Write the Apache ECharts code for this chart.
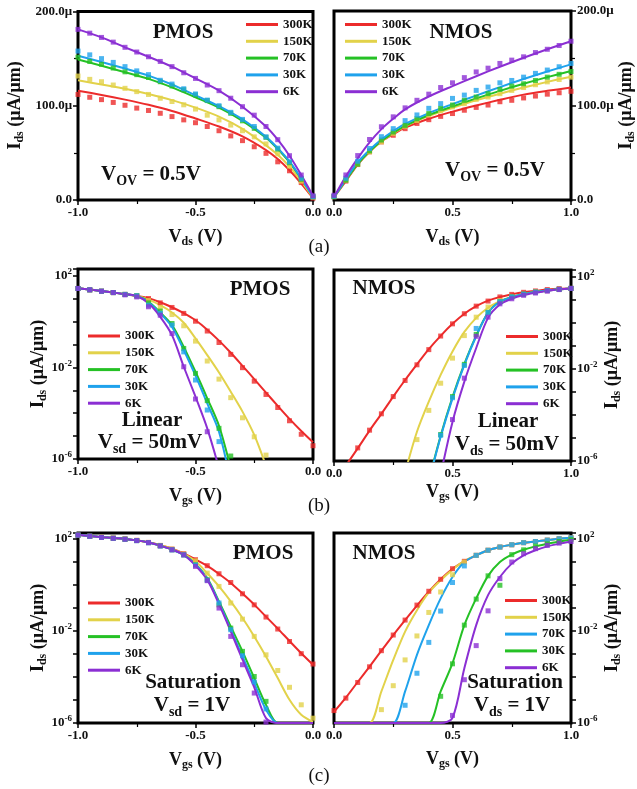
<!DOCTYPE html>
<html>
<head>
<meta charset="utf-8">
<script src="https://cdn.jsdelivr.net/npm/echarts@6/dist/echarts.min.js"></script>
<style>
  html, body { margin: 0; padding: 0; background: #fff; }
  #chart { width: 637px; height: 789px; }
</style>
</head>
<body>
<div id="chart"></div>
<script>
// ---- temperatures and gate / drain voltage grids ----
const TEMPS = ['300K', '150K', '70K', '30K', '6K'];
const N = null;
const VP = [-1.00, -0.95, -0.90, -0.85, -0.80, -0.75, -0.70, -0.65, -0.60, -0.55, -0.50,
            -0.45, -0.40, -0.35, -0.30, -0.25, -0.20, -0.15, -0.10, -0.05, 0.00];
const VN = [0.00, 0.05, 0.10, 0.15, 0.20, 0.25, 0.30, 0.35, 0.40, 0.45, 0.50,
            0.55, 0.60, 0.65, 0.70, 0.75, 0.80, 0.85, 0.90, 0.95, 1.00];
const VP_FIT_OUT = [-1.0, -0.9, -0.8, -0.7, -0.6, -0.5, -0.4, -0.3, -0.2, -0.15, -0.1, -0.05, 0.0];
const VN_FIT_OUT = [0.0, 0.05, 0.1, 0.15, 0.2, 0.25, 0.3, 0.4, 0.5, 0.6, 0.7, 0.8, 0.9, 1.0];

// ---- (a) output characteristics, Ids in uA/um (rows: 300K,150K,70K,30K,6K) ----
const pmosOutFit = [
  [116, 111.5, 106.5, 101, 94.5, 86.5, 78, 67.5, 53, 43.5, 31.5, 17.5, 2],
  [127, 122.5, 118, 112.5, 106, 98, 88.5, 75.5, 58, 48, 35.5, 20, 2.5],
  [149, 142.5, 135.5, 128.5, 119.5, 109, 98, 84, 66, 54, 40, 22.5, 3.5],
  [153, 146.5, 139.5, 132, 122.5, 111, 99.5, 85.5, 67, 55, 41, 23, 3.5],
  [181, 172.5, 162, 152, 141.5, 129, 116, 99, 78, 64, 47, 26.5, 4.5]
];
const pmosOutMeas = [
  [112, 109, 106.5, 103.5, 100.5, 97.5, 95, 92, 88.5, 85, 82, 78, 73.5, 68, 63, 56.5, 49.5, 40.5, 31, 18.5, 2],
  [131.5, 128, 125.5, 122, 118.5, 115, 112, 108, 104.5, 101, 96.5, 90, 85, 79.5, 73.5, 67, 59.5, 49, 36, 20, 3],
  [151.5, 147, 144, 140, 136, 133, 130, 125.5, 121, 117, 111.5, 105.5, 99, 92, 84, 76, 66.5, 54, 39.5, 22, 3.5],
  [158, 154, 150, 146, 141.5, 137, 133, 127, 123, 118, 112.5, 106, 100, 93, 85.5, 78, 67, 55, 40.5, 23, 3.5],
  [181, 177, 172.5, 167.5, 162, 157, 152, 147, 141.5, 135, 129, 122, 116, 108, 99, 90, 78, 64, 47, 26.5, 4.5]
];
const nmosOutFit = [
  [3, 20, 37.5, 51, 62, 69.5, 76.5, 86, 93.5, 100, 106, 111.5, 115.5, 119],
  [3, 21, 38, 51, 62, 70.5, 78, 89, 97.5, 105.5, 112.5, 119, 125, 130.5],
  [3, 21, 38, 51.5, 62.5, 71, 78.5, 90, 99, 107.5, 115.5, 123, 130, 136.5],
  [3, 22, 40, 53, 64, 73, 80.5, 92, 101.5, 110.5, 119.5, 128, 136, 143.5],
  [3, 25, 44, 61, 75, 86, 96, 109.5, 120.5, 131, 141, 150.5, 159.5, 168]
];
const nmosOutMeas = [
  [3.5, 20, 37.5, 51, 61.5, 68.5, 75.5, 81, 85, 88.5, 91.5, 95, 98, 100.5, 104, 105.5, 108, 110, 112, 113.5, 115],
  [3.5, 21, 38, 51, 61.5, 70.5, 78, 84, 90, 94.5, 98.5, 102, 106.5, 109, 112.5, 116, 119, 122, 125, 127.5, 130],
  [3.5, 21, 38, 52, 63.5, 72, 79, 86, 91.5, 97, 100.5, 105.5, 109, 112.5, 117, 120.5, 123, 126.5, 130, 133, 136],
  [4, 23, 41, 54.5, 67, 75.5, 84, 90, 97, 102, 107.5, 111, 116, 119.5, 124, 126.5, 130, 134, 137.5, 141, 144.5],
  [5, 26.5, 47, 64, 77.5, 88, 97.5, 105.5, 112, 119, 124, 129.5, 135.5, 139.5, 144.5, 148, 151.5, 156, 159.5, 163.5, 168]
];

// ---- (b) linear transfer, log10(Ids / uA/um) ----
const pmosLinFit = [
  [1.46, 1.40, 1.34, 1.27, 1.2, 1.12, 1.02, 0.85, 0.63, 0.37, 0.06, -0.35, -0.83, -1.36, -1.93, -2.51, -3.1, -3.68, -4.25, -4.78, -5.27],
  [1.46, 1.40, 1.34, 1.27, 1.2, 1.12, 0.96, 0.72, 0.4, -0.05, -0.73, -1.46, -2.22, -3.06, -3.93, -4.95, -6.3, N, N, N, N],
  [1.46, 1.40, 1.34, 1.27, 1.2, 1.12, 0.88, 0.4, -0.15, -1.1, -2.19, -3.35, -4.55, -6.4, N, N, N, N, N, N, N],
  [1.46, 1.40, 1.34, 1.27, 1.2, 1.12, 0.85, 0.36, -0.23, -1.24, -2.36, -3.57, -4.81, -7.0, N, N, N, N, N, N, N],
  [1.46, 1.40, 1.34, 1.27, 1.2, 1.12, 0.8, 0.21, -0.59, -1.97, -3.28, -4.66, -6.4, N, N, N, N, N, N, N, N]
];
const pmosLinMeas = [
  [1.45, 1.39, 1.33, 1.27, 1.19, 1.13, 1.01, 0.82, 0.62, 0.36, 0.02, -0.41, -0.91, -1.43, -2.01, -2.6, -3.18, -3.75, -4.33, -4.92, -5.42],
  [1.45, 1.39, 1.33, 1.27, 1.19, 1.13, 0.92, 0.62, 0.31, -0.18, -0.85, -1.72, -2.51, -3.32, -4.2, -5.03, -5.83, N, N, N, N],
  [1.45, 1.39, 1.33, 1.27, 1.19, 1.13, 0.82, 0.46, -0.08, -1.17, -2.26, -3.45, -4.66, -5.87, N, N, N, N, N, N, N],
  [1.45, 1.39, 1.33, 1.27, 1.19, 1.13, 0.72, 0.36, -0.15, -1.32, -2.55, -3.86, -5.24, N, N, N, N, N, N, N, N],
  [1.45, 1.39, 1.33, 1.27, 1.17, 1.08, 0.65, 0.28, -0.52, -1.97, -3.38, -4.81, N, N, N, N, N, N, N, N, N]
];
const nmosLinFit = [
  [N, -6.2, -5.45, -4.68, -3.95, -3.2, -2.48, -1.8, -1.14, -0.56, -0.04, 0.4, 0.73, 0.97, 1.13, 1.24, 1.33, 1.39, 1.45, 1.49, 1.5],
  [N, N, N, N, N, N, -6.5, -4.73, -3.42, -2.26, -1.24, -0.39, 0.22, 0.66, 0.95, 1.13, 1.25, 1.34, 1.41, 1.46, 1.5],
  [N, N, N, N, N, N, N, N, -6.85, -4.9, -3.22, -1.78, -0.55, 0.45, 0.92, 1.12, 1.25, 1.34, 1.41, 1.46, 1.5],
  [N, N, N, N, N, N, N, N, -6.9, -4.95, -3.28, -1.82, -0.58, 0.44, 0.92, 1.12, 1.25, 1.34, 1.41, 1.46, 1.5],
  [N, N, N, N, N, N, N, N, N, -6.6, -4.3, -2.55, -1.09, 0.22, 0.8, 1.05, 1.21, 1.31, 1.39, 1.46, 1.5]
];
const nmosLinMeas = [
  [N, N, -5.43, -4.66, -3.95, -3.2, -2.5, -1.82, -1.16, -0.57, -0.04, 0.4, 0.73, 0.95, 1.13, 1.24, 1.33, 1.39, 1.45, 1.49, 1.5],
  [N, N, N, N, N, N, N, -5.07, -3.8, -2.62, -1.53, -0.55, 0.25, 0.69, 0.97, 1.14, 1.25, 1.34, 1.4, 1.45, 1.5],
  [N, N, N, N, N, N, N, N, N, -4.85, -3.2, -1.8, -0.5, 0.46, 0.92, 1.13, 1.25, 1.34, 1.41, 1.46, 1.5],
  [N, N, N, N, N, N, N, N, N, -4.88, -3.25, -1.85, -0.24, 0.45, 0.92, 1.13, 1.25, 1.34, 1.41, 1.46, 1.5],
  [N, N, N, N, N, N, N, N, N, N, -4.2, -2.4, -0.58, 0.25, 0.83, 1.05, 1.2, 1.3, 1.38, 1.45, 1.5]
];

// ---- (c) saturation transfer, log10(Ids / uA/um) ----
const pmosSatFit = [
  [2.17, 2.12, 2.07, 2.03, 1.99, 1.93, 1.85, 1.72, 1.57, 1.36, 1.1, 0.82, 0.47, 0.08, -0.38, -0.86, -1.38, -1.9, -2.44, -2.97, -3.47],
  [2.17, 2.12, 2.07, 2.03, 1.99, 1.93, 1.85, 1.72, 1.56, 1.34, 1.02, 0.5, -0.07, -0.72, -1.44, -2.24, -3.11, -4.05, -4.99, -5.64, -5.95],
  [2.17, 2.12, 2.07, 2.03, 1.99, 1.93, 1.84, 1.7, 1.53, 1.3, 0.9, 0.29, -0.72, -1.81, -2.89, -4.05, -5.21, -6, -6, -6, -6],
  [2.17, 2.12, 2.07, 2.03, 1.99, 1.93, 1.84, 1.7, 1.53, 1.3, 0.88, 0.26, -0.78, -1.95, -3.11, -4.27, -5.42, -6, -6, -6, -6],
  [2.17, 2.12, 2.07, 2.03, 1.99, 1.93, 1.84, 1.7, 1.53, 1.3, 0.84, 0.22, -0.84, -2.02, -3.25, -4.45, -5.79, -6, -6, -6, -6]
];
const pmosSatMeas = [
  [2.16, 2.11, 2.07, 2.03, 1.99, 1.93, 1.84, 1.71, 1.55, 1.35, 1.09, 0.83, 0.48, 0.1, -0.39, -0.87, -1.4, -1.92, -2.46, -2.99, -3.44],
  [2.16, 2.11, 2.07, 2.03, 1.99, 1.93, 1.84, 1.71, 1.55, 1.33, 1.04, 0.51, -0.07, -0.79, -1.49, -2.24, -3.04, -3.72, -4.45, -5.21, -5.79],
  [2.16, 2.11, 2.06, 2.02, 1.98, 1.92, 1.83, 1.69, 1.52, 1.3, 0.87, 0.22, -0.87, -1.88, -2.89, -3.98, -5.06, N, N, N, N],
  [2.16, 2.11, 2.06, 2.02, 1.98, 1.92, 1.83, 1.69, 1.52, 1.3, 0.86, 0.2, -0.79, -1.95, -3.08, -4.22, -5.39, N, N, N, N],
  [2.16, 2.11, 2.06, 2.02, 1.98, 1.92, 1.83, 1.69, 1.52, 1.3, 0.8, 0.18, -1.01, -2.24, -3.47, -4.7, -5.96, N, N, N, N]
];
const nmosSatFit = [
  [-5.52, -4.9, -4.22, -3.55, -2.86, -2.18, -1.53, -0.9, -0.3, 0.24, 0.7, 1.02, 1.28, 1.5, 1.64, 1.74, 1.83, 1.88, 1.94, 2.0, 2.04],
  [-6, -6, -6, -6, -4.63, -3.26, -2.03, -1.1, -0.33, 0.2, 0.66, 1.04, 1.28, 1.5, 1.64, 1.74, 1.83, 1.88, 1.94, 2.0, 2.04],
  [-6, -6, -6, -6, -6, -6, -4.63, -3.04, -1.75, -0.59, 0.34, 0.99, 1.28, 1.5, 1.64, 1.74, 1.83, 1.88, 1.94, 2.0, 2.04],
  [-6, -6, -6, -6, -6, -6, -6, -6, -6, -4.63, -3.4, -1.75, -0.59, 0.39, 0.99, 1.31, 1.52, 1.67, 1.78, 1.88, 1.96],
  [-6, -6, -6, -6, -6, -6, -6, -6, -6, -6, -5.78, -3.62, -1.75, -0.45, 0.34, 0.92, 1.28, 1.5, 1.67, 1.78, 1.88]
];
const nmosSatMeas = [
  [-5.46, -4.92, -4.24, -3.56, -2.86, -2.18, -1.53, -0.88, -0.28, 0.24, 0.7, 1.02, 1.28, 1.5, 1.64, 1.74, 1.83, 1.88, 1.94, 2.0, 2.04],
  [N, N, N, N, -5.42, -4.38, -3.26, -2.22, -1.2, -0.31, 0.44, 0.99, 1.28, 1.5, 1.64, 1.74, 1.83, 1.88, 1.94, 2.0, 2.04],
  [N, N, N, N, N, N, -5.23, -3.84, -2.5, -1.14, 0.1, 0.82, 1.28, 1.5, 1.64, 1.74, 1.83, 1.88, 1.94, 2.0, 2.04],
  [N, N, N, N, N, N, N, N, N, -4.84, -3.43, -1.75, -0.62, 0.39, -0.02, 1.31, 1.52, 1.68, 1.78, 1.88, 1.96],
  [N, N, N, N, N, N, N, N, N, N, -5.67, -4.12, -2.64, -1.13, 0.27, 0.99, 1.35, 1.57, 1.71, 1.81, 1.88]
];

// ---- tick labels ----
const OUT_Y_TICKS = [0, 100, 200];
const LOG_LABEL_EXPONENTS = [2, -2, -6];

// ---- styling ----
const FONT = 'Liberation Serif';
const RED = '#ec2b2b', YELLOW = '#e2d24a', GREEN = '#25c125', BLUE = '#1fa2ec', PURPLE = '#8b2fd3';
const COLORS = [RED, YELLOW, GREEN, BLUE, PURPLE];
const COLORS_SWAP = [RED, YELLOW, BLUE, GREEN, PURPLE];

const panels = [
  { grid: { left: 78,  top: 11.5, width: 235, height: 188.5 }, x: [-1, 0], y: 'out', side: 'left',
    fitX: VP_FIT_OUT, fit: pmosOutFit, measX: VP, meas: pmosOutMeas, colors: COLORS, legend: [241, 12.5] },
  { grid: { left: 334, top: 11,   width: 237, height: 189 },   x: [0, 1],  y: 'out', side: 'right',
    fitX: VN_FIT_OUT, fit: nmosOutFit, measX: VN, meas: nmosOutMeas, colors: COLORS, legend: [340, 12.5] },
  { grid: { left: 78,  top: 269,  width: 235, height: 190 },   x: [-1, 0], y: 2.3, side: 'left',
    fitX: VP, fit: pmosLinFit, measX: VP, meas: pmosLinMeas, colors: COLORS, legend: [83, 324] },
  { grid: { left: 334, top: 270,  width: 237, height: 191 },   x: [0, 1],  y: 2.3, side: 'right',
    fitX: VN, fit: nmosLinFit, measX: VN, meas: nmosLinMeas, colors: COLORS, legend: [501, 324.5] },
  { grid: { left: 78,  top: 533,  width: 235, height: 190 },   x: [-1, 0], y: 2.25, side: 'left',
    fitX: VP, fit: pmosSatFit, measX: VP, meas: pmosSatMeas, colors: COLORS, legend: [83, 591] },
  { grid: { left: 334, top: 533,  width: 237, height: 190 },   x: [0, 1],  y: 2.25, side: 'right',
    fitX: VN, fit: nmosSatFit, measX: VN, meas: nmosSatMeas, colors: COLORS_SWAP, legend: [500, 588.5] }
];

function pairs(xs, ys) {
  const out = [];
  ys.forEach((y, i) => { if (y !== null) out.push([xs[i], y]); });
  return out;
}

const labelFont = { fontFamily: FONT, fontWeight: 'bold', fontSize: 13, color: '#111' };
const grids = [], xAxes = [], yAxes = [], series = [], legends = [];

panels.forEach((p, k) => {
  grids.push(Object.assign({ show: true, borderColor: '#000', borderWidth: 3, backgroundColor: '#fff' }, p.grid));

  xAxes.push({
    gridIndex: k, type: 'value', position: 'bottom', min: p.x[0], max: p.x[1], interval: 0.5,
    axisLine: { show: false, onZero: false }, splitLine: { show: false },
    axisTick: { show: true, length: 5, lineStyle: { color: '#000', width: 1.5 } },
    minorTick: { show: true, splitNumber: 2, length: 4, lineStyle: { color: '#000', width: 1.2 } },
    axisLabel: Object.assign({ margin: 6, showMinLabel: true, showMaxLabel: true,
      formatter: v => v.toFixed(1) }, labelFont)
  });

  const yBase = {
    gridIndex: k, type: 'value', position: p.side,
    axisLine: { show: false, onZero: false }, splitLine: { show: false },
    axisTick: { show: true, length: 5, lineStyle: { color: '#000', width: 1.5 } }
  };
  if (p.y === 'out') {
    yAxes.push(Object.assign(yBase, {
      min: OUT_Y_TICKS[0], max: OUT_Y_TICKS[2], interval: 100,
      minorTick: { show: true, splitNumber: 2, length: 4, lineStyle: { color: '#000', width: 1.2 } },
      axisLabel: Object.assign({ margin: 6,
        formatter: v => (v === 0 ? '0.0' : v.toFixed(1) + '\u03bc') }, labelFont)
    }));
  } else {
    yAxes.push(Object.assign(yBase, {
      min: -6, max: p.y, interval: 1,
      axisLabel: Object.assign({ margin: 6, interval: 0,
        formatter: v => (LOG_LABEL_EXPONENTS.indexOf(v) >= 0 ? '{b|10}{s|' + v + '}' : ''),
        rich: {
          b: { fontFamily: FONT, fontWeight: 'bold', fontSize: 13, color: '#111' },
          s: { fontFamily: FONT, fontWeight: 'bold', fontSize: 9, color: '#111', padding: [0, 0, 8, 0] }
        } }, labelFont)
    }));
  }

  TEMPS.forEach((t, i) => {
    series.push({
      type: 'line', name: t, xAxisIndex: k, yAxisIndex: k,
      data: pairs(p.fitX, p.fit[i]), smooth: 0.3, symbol: 'none', clip: true,
      lineStyle: { color: p.colors[i], width: 2 }, itemStyle: { color: p.colors[i] },
      z: 3, silent: true, animation: false
    });
    series.push({
      type: 'scatter', name: t + ' measured', xAxisIndex: k, yAxisIndex: k,
      data: pairs(p.measX, p.meas[i]), symbol: 'rect', symbolSize: 5, clip: true,
      itemStyle: { color: p.colors[i] }, z: 4, silent: true, animation: false
    });
  });

  legends.push({
    orient: 'vertical', left: p.legend[0], top: p.legend[1],
    itemWidth: 32, itemHeight: 3, itemGap: 2.8, icon: 'rect', selectedMode: false,
    textStyle: { fontFamily: FONT, fontWeight: 'bold', fontSize: 13, color: '#111', lineHeight: 14 },
    data: TEMPS.map((t, i) => ({ name: t, itemStyle: { color: p.colors[i] } }))
  });
});

// ---- free text: device names, bias conditions, axis titles, captions ----
function richText(x, y, parts, size, subSize, rotate, weight) {
  const w = weight || 'bold';
  const str = parts.map(([s, sub]) => '{' + (sub ? 'u' : 'm') + '|' + s + '}').join('');
  return {
    type: 'text', x: x, y: y, rotation: rotate ? Math.PI / 2 : 0, silent: true, z: 10,
    style: {
      text: str, align: 'center', verticalAlign: 'middle', fill: '#111',
      rich: {
        m: { fontFamily: FONT, fontWeight: w, fontSize: size, fill: '#111' },
        u: { fontFamily: FONT, fontWeight: w, fontSize: subSize, fill: '#111', padding: [Math.round(size * 0.55), 0, 0, 0] }
      }
    }
  };
}
const BIG = 21, BIG_SUB = 14, AX = 18, AX_SUB = 12;
const graphics = [
  richText(183, 33, [['PMOS']], BIG, BIG_SUB),
  richText(461, 33, [['NMOS']], BIG, BIG_SUB),
  richText(151, 175, [['V'], ['OV', 1], [' = 0.5V']], BIG, BIG_SUB),
  richText(495, 171, [['V'], ['OV', 1], [' = 0.5V']], BIG, BIG_SUB),

  richText(260, 290, [['PMOS']], BIG, BIG_SUB),
  richText(152, 421, [['Linear']], BIG, BIG_SUB),
  richText(150, 443, [['V'], ['sd', 1], [' = 50mV']], BIG, BIG_SUB),
  richText(384, 289, [['NMOS']], BIG, BIG_SUB),
  richText(508, 422, [['Linear']], BIG, BIG_SUB),
  richText(507, 445, [['V'], ['ds', 1], [' = 50mV']], BIG, BIG_SUB),

  richText(263, 554, [['PMOS']], BIG, BIG_SUB),
  richText(193, 683, [['Saturation']], BIG, BIG_SUB),
  richText(192, 706, [['V'], ['sd', 1], [' = 1V']], BIG, BIG_SUB),
  richText(384, 554, [['NMOS']], BIG, BIG_SUB),
  richText(515, 683, [['Saturation']], BIG, BIG_SUB),
  richText(512, 706, [['V'], ['ds', 1], [' = 1V']], BIG, BIG_SUB),

  richText(195.5, 237, [['V'], ['ds', 1], [' (V)']], AX, AX_SUB),
  richText(452.5, 237, [['V'], ['ds', 1], [' (V)']], AX, AX_SUB),
  richText(195.5, 496, [['V'], ['gs', 1], [' (V)']], AX, AX_SUB),
  richText(452.5, 492, [['V'], ['gs', 1], [' (V)']], AX, AX_SUB),
  richText(195.5, 760, [['V'], ['gs', 1], [' (V)']], AX, AX_SUB),
  richText(452.5, 759, [['V'], ['gs', 1], [' (V)']], AX, AX_SUB),

  richText(15, 105.5, [['I'], ['ds', 1], [' (\u03bcA/\u03bcm)']], AX, AX_SUB, true),
  richText(626, 105.5, [['I'], ['ds', 1], [' (\u03bcA/\u03bcm)']], AX, AX_SUB, true),
  richText(38, 364, [['I'], ['ds', 1], [' (\u03bcA/\u03bcm)']], AX, AX_SUB, true),
  richText(612, 365, [['I'], ['ds', 1], [' (\u03bcA/\u03bcm)']], AX, AX_SUB, true),
  richText(38, 628, [['I'], ['ds', 1], [' (\u03bcA/\u03bcm)']], AX, AX_SUB, true),
  richText(612, 628, [['I'], ['ds', 1], [' (\u03bcA/\u03bcm)']], AX, AX_SUB, true),

  richText(319, 247, [['(a)']], 19, 12, false, 'normal'),
  richText(319, 506, [['(b)']], 19, 12, false, 'normal'),
  richText(319, 776, [['(c)']], 19, 12, false, 'normal')
];

const chart = echarts.init(document.getElementById('chart'), null, { renderer: 'canvas' });
chart.setOption({
  animation: false,
  backgroundColor: '#fff',
  grid: grids,
  xAxis: xAxes,
  yAxis: yAxes,
  legend: legends,
  series: series,
  graphic: graphics
});
</script>
</body>
</html>
